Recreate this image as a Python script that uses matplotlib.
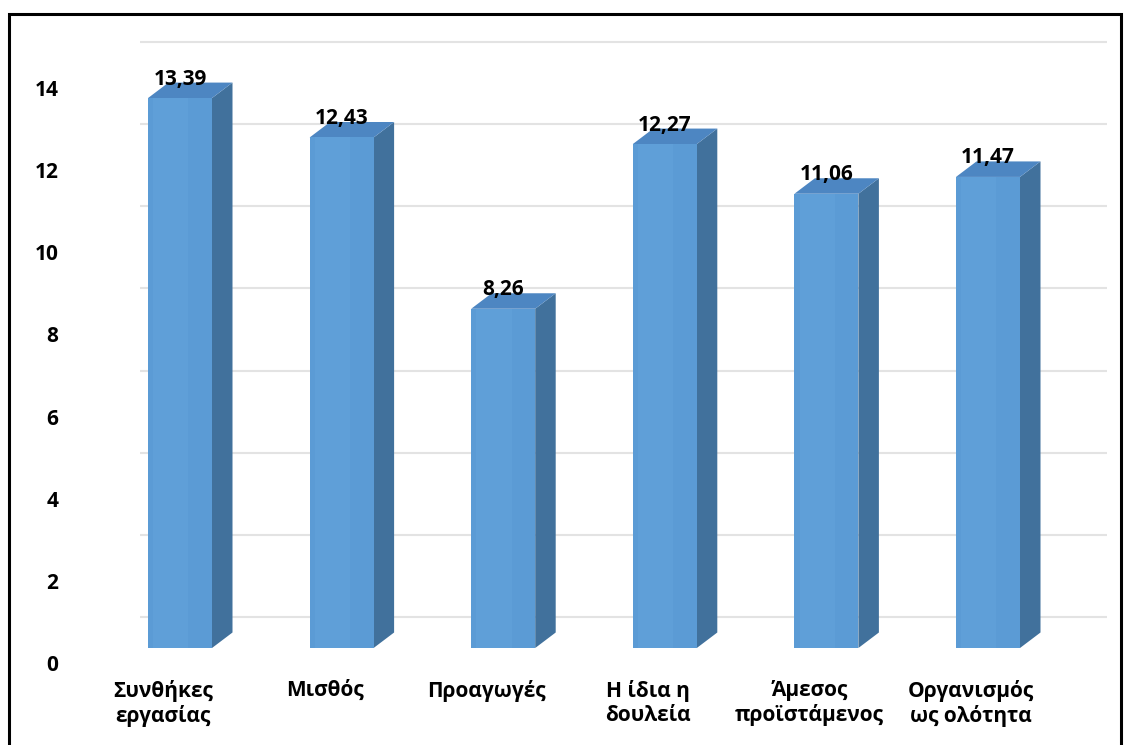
import matplotlib
matplotlib.use("Agg")
import matplotlib.pyplot as plt
import matplotlib.transforms as mtransforms
from matplotlib.patches import Polygon, Rectangle

# Data
categories = ["Συνθήκες\nεργασίας", "Μισθός", "Προαγωγές",
              "Η ίδια η\nδουλεία", "Άμεσος\nπροϊστάμενος", "Οργανισμός\nως ολότητα"]
values = [13.39, 12.43, 8.26, 12.27, 11.06, 11.47]
yticks = [0, 2, 4, 6, 8, 10, 12, 14]

plt.rcParams['font.family'] = ['Open Sans', 'DejaVu Sans']

W, H, DPI = 1125, 745, 100
fig = plt.figure(figsize=(W / DPI, H / DPI), dpi=DPI)
fig.patch.set_facecolor("white")

# axes placed in pixel terms
ax_left, ax_right, ax_top, ax_bottom = 100, 1110, 20, 680
ax = fig.add_axes([ax_left / W, 1 - ax_bottom / H,
                   (ax_right - ax_left) / W, (ax_bottom - ax_top) / H])

px_x = 161.6   # pixels per category step
px_y = 41.07   # pixels per value unit
x0_px = 180    # first bar centre
y0_px = 648    # front baseline
ax.set_xlim((ax_left - x0_px) / px_x, (ax_right - x0_px) / px_x)
ax.set_ylim(-(ax_bottom - y0_px) / px_y, (y0_px - ax_top) / px_y)

# 3-D look: depth offsets of bar and back wall
bar_w = 64 / px_x
ddx = 20.5 / px_x
ddy = 15.5 / px_y
wall_dy = 31 / px_y
wall_x0 = (140 - x0_px) / px_x
wall_x1 = (1107 - x0_px) / px_x

# back-wall gridlines
for v in yticks:
    ax.plot([wall_x0, wall_x1], [v + wall_dy, v + wall_dy],
            color="#E3E3E3", lw=1.5, zorder=0, solid_capstyle="butt")

front_c = "#5B9BD5"
side_c = "#41719C"
top_c = "#4D86C2"

FS = 15
xs = list(range(len(values)))
ax.bar(xs, values, width=bar_w, color=front_c, edgecolor="none", zorder=3)
for x, v in zip(xs, values):
    l, r = x - bar_w / 2, x + bar_w / 2
    side = Polygon([(r, 0), (r + ddx, ddy), (r + ddx, v + ddy), (r, v)],
                   closed=True, facecolor=side_c, edgecolor="none", zorder=2)
    top = Polygon([(l, v), (r, v), (r + ddx, v + ddy), (l + ddx, v + ddy)],
                  closed=True, facecolor=top_c, edgecolor="none", zorder=2)
    ax.add_patch(side)
    ax.add_patch(top)
    # subtle lighter band on the front face
    ax.add_patch(Rectangle((l + bar_w * 0.08, 0), bar_w * 0.55, v,
                           facecolor="#64A3DB", edgecolor="none", zorder=3.5, alpha=0.5))
    ax.text(x, v + 19 / px_y, f"{v:.2f}".replace(".", ","),
            ha="center", va="center", fontsize=FS, fontweight="bold",
            color="black", zorder=5)

ax.set_yticks(yticks)
ax.set_yticklabels([str(t) for t in yticks], fontsize=FS, fontweight="bold")
ax.set_xticks(xs)
ax.set_xticklabels(categories, fontsize=FS, fontweight="bold", linespacing=1.2)
ax.tick_params(axis="both", length=0)
ax.tick_params(axis="y", pad=30)
ax.tick_params(axis="x", pad=0)
for lab in ax.get_yticklabels():
    lab.set_transform(lab.get_transform() +
                      mtransforms.ScaledTranslation(0, -15 / DPI, fig.dpi_scale_trans))
for lab in ax.get_xticklabels():
    lab.set_transform(lab.get_transform() +
                      mtransforms.ScaledTranslation(-17 / DPI, 0, fig.dpi_scale_trans))
for s in ax.spines.values():
    s.set_visible(False)
ax.set_facecolor("none")

# outer frame
fig.add_artist(Rectangle((9 / W, -0.01), (1121 - 9) / W, 1.01 - 14 / H,
                         transform=fig.transFigure, fill=False,
                         edgecolor="black", lw=2.2))

fig.savefig("out.png", dpi=DPI)
